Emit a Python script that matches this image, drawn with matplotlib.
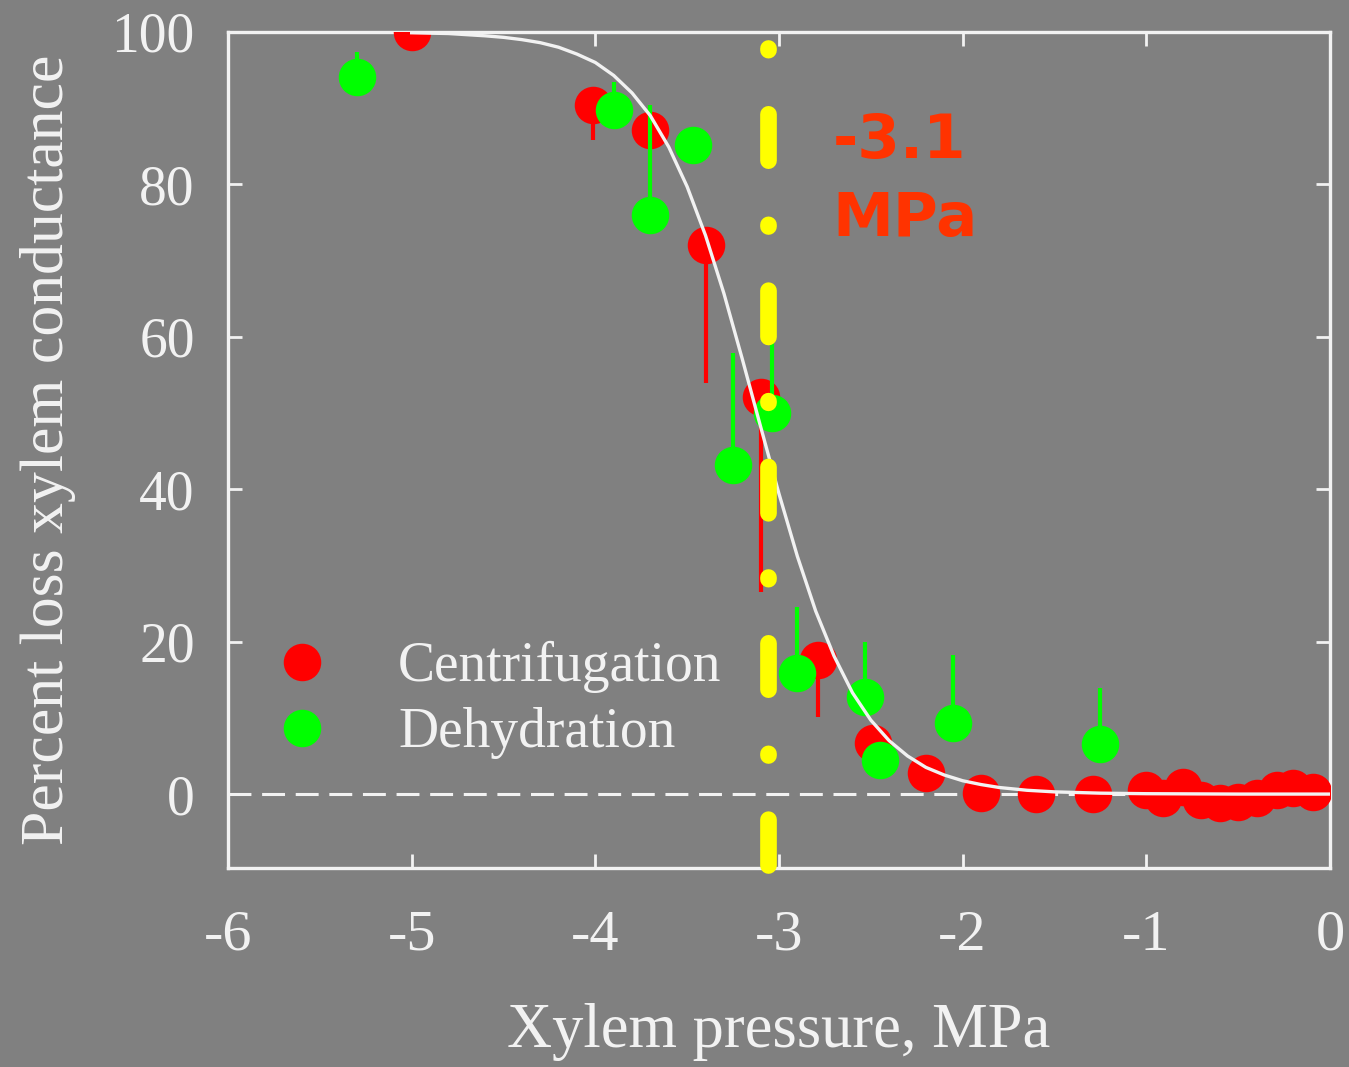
import matplotlib.pyplot as plt
from matplotlib.lines import Line2D

# Centrifugation (red): mean and lower error
cent_x = [-5.0, -4.01, -3.70, -3.40, -3.10, -2.79, -2.49, -2.20, -1.90, -1.60, -1.29,
          -1.00, -0.91, -0.80, -0.70, -0.60, -0.50, -0.40, -0.29, -0.20, -0.09]
cent_y = [100.0, 90.4, 87.1, 72.0, 52.1, 17.6, 6.7, 2.8, 0.1, 0.0, 0.0,
          0.5, -0.5, 0.9, -0.8, -1.2, -1.0, -0.5, 0.5, 0.8, 0.3]
cent_err = [0, 4.6, 0, 18.0, 25.6, 7.5, 0, 0, 0, 0, 0,
            0, 0, 0, 0, 0, 0, 0, 0, 0, 0]

# Dehydration (green): mean and upper error
dehy_x = [-5.30, -3.90, -3.70, -3.47, -3.25, -3.04, -2.90, -2.53, -2.45, -2.05, -1.25]
dehy_y = [94.1, 89.8, 76.0, 85.2, 43.2, 50.0, 15.9, 12.7, 4.5, 9.3, 6.6]
dehy_err = [3.3, 3.6, 14.4, 0, 14.7, 10.0, 8.6, 7.2, 0, 8.9, 7.3]

# fitted vulnerability curve
fit_x = [-5.0, -4.8, -4.6, -4.5, -4.4, -4.3, -4.2, -4.1, -4.0, -3.9, -3.8, -3.7, -3.6,
         -3.5, -3.4, -3.3, -3.2, -3.1, -3.0, -2.9, -2.8, -2.7, -2.6, -2.5, -2.4, -2.3,
         -2.2, -2.1, -2.0, -1.9, -1.8, -1.65, -1.5, -1.25, -1.0, -0.5, 0.0]
fit_y = [99.9, 99.8, 99.5, 99.3, 99.0, 98.6, 98.0, 97.1, 96.0, 94.3, 92.0, 89.0, 84.9,
         79.7, 73.3, 65.7, 57.1, 48.2, 39.4, 31.2, 24.0, 18.1, 13.3, 9.7, 7.0, 5.0,
         3.5, 2.5, 1.75, 1.25, 0.86, 0.5, 0.29, 0.12, 0.05, 0.0, 0.0]

P50 = -3.06
P50_label = "-3.1\nMPa"

BG = "#808080"
FG = "#F2F2F2"
RED = "#FF0000"
GREEN = "#00FF00"
YELLOW = "#FFFF00"

plt.rcParams["font.family"] = ["Liberation Serif", "DejaVu Serif"]

fig = plt.figure(figsize=(13.49, 10.67), dpi=100, facecolor=BG)
ax = fig.add_axes([228 / 1349, 1 - 868 / 1067, (1330 - 228) / 1349, (868 - 32) / 1067])
ax.set_facecolor(BG)

ax.axhline(0, color=FG, lw=2.2, dashes=(7.5, 3.5), zorder=1)

ax.errorbar(cent_x, cent_y, yerr=[cent_err, [0] * len(cent_err)], fmt="none",
            ecolor=RED, elinewidth=3, capsize=0, zorder=2)
ax.plot(cent_x, cent_y, "o", color=RED, ms=27, mec="none", zorder=3)
ax.errorbar(dehy_x, dehy_y, yerr=[[0] * len(dehy_err), dehy_err], fmt="none",
            ecolor=GREEN, elinewidth=3, capsize=0, zorder=4)
ax.plot(dehy_x, dehy_y, "o", color=GREEN, ms=27, mec="none", zorder=5)

ax.plot(fit_x, fit_y, color=FG, lw=2.4, zorder=6)

ax.plot([P50, P50], [97.9, -9.3], color=YELLOW, lw=12,
        linestyle=(0, (0.1, 3.85, 2.78, 3.85)), dash_capstyle="round",
        clip_on=False, zorder=7)

ax.text(-2.707, 89.5, P50_label, color="#FF3300", fontsize=44, fontweight="bold",
        family="DejaVu Sans", va="top", ha="left", linespacing=1.42, zorder=8)

ax.set_xlim(-6, 0)
ax.set_ylim(-9.7, 100)
ax.set_xticks([-6, -5, -4, -3, -2, -1, 0])
ax.set_xticklabels(["-6", "-5", "-4", "-3", "-2", "-1", "0"])
ax.set_yticks([0, 20, 40, 60, 80, 100])

for s in ax.spines.values():
    s.set_color(FG)
    s.set_linewidth(2.4)
ax.tick_params(axis="both", direction="in", length=10, width=2, color=FG,
               labelcolor=FG, top=True, right=True)
ax.tick_params(axis="y", labelsize=40, pad=24)
ax.tick_params(axis="x", labelsize=42, pad=30)

ax.set_xlabel("Xylem pressure, MPa", color=FG, fontsize=45, labelpad=30)
ax.set_ylabel("Percent loss xylem conductance", color=FG, fontsize=44.5)
ax.yaxis.set_label_coords(-0.138, 0.5)

handles = [Line2D([], [], ls="none", marker="o", ms=27, color=RED, mec="none"),
           Line2D([], [], ls="none", marker="o", ms=27, color=GREEN, mec="none")]
leg = ax.legend(handles, ["Centrifugation", "Dehydration"], loc="upper left",
                bbox_to_anchor=(-0.003, 0.298), frameon=False, fontsize=40,
                handletextpad=0.72, labelspacing=0.25, borderaxespad=0)
for t in leg.get_texts():
    t.set_color(FG)

fig.savefig("out.png", dpi=100, facecolor=BG)
